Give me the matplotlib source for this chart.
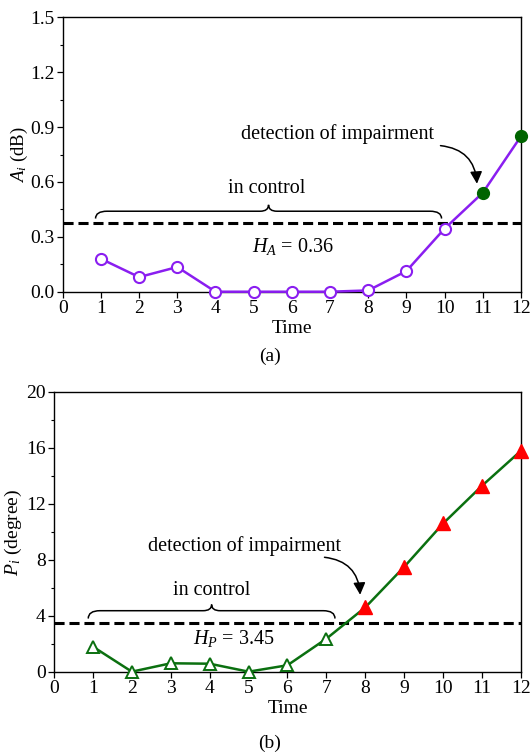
import numpy as np
import matplotlib
matplotlib.use("Agg")
from matplotlib import pyplot as plt
from matplotlib.path import Path
from matplotlib.patches import PathPatch
from matplotlib.ticker import MultipleLocator

plt.rcParams['font.family'] = ['Liberation Serif', 'DejaVu Serif']
plt.rcParams['mathtext.fontset'] = 'custom'
plt.rcParams['mathtext.rm'] = 'Liberation Serif'
plt.rcParams['mathtext.it'] = 'Liberation Serif:italic'
plt.rcParams['font.size'] = 14

# data
time = list(range(1, 13))
amp = [0.18, 0.08, 0.135, 0.0, 0.0, 0.0, 0.0, 0.007, 0.113, 0.345, 0.541, 0.85]
phase = [1.79, 0.0, 0.6, 0.57, 0.0, 0.46, 2.36, 4.6, 7.5, 10.6, 13.3, 15.8]
h_amp = 0.377        # drawn position of threshold
h_amp_label = 0.36
h_phase = 3.5
h_phase_label = 3.45
detect_amp = 11      # first out-of-control sample
detect_phase = 8

purple = '#8a1ef0'
dgreen = '#006400'
green = '#0b7010'


def brace(ax, x0, x1, yb, ym, yt, r=0.3, rt=0.22):
    xc = (x0 + x1) / 2.0
    verts = [(x0, yb), (x0, ym), (x0 + r, ym),
             (xc - rt, ym), (xc, ym), (xc, yt),
             (xc, ym), (xc + rt, ym),
             (x1 - r, ym), (x1, ym), (x1, yb)]
    codes = [Path.MOVETO, Path.CURVE3, Path.CURVE3,
             Path.LINETO, Path.CURVE3, Path.CURVE3,
             Path.CURVE3, Path.CURVE3,
             Path.LINETO, Path.CURVE3, Path.CURVE3]
    ax.add_patch(PathPatch(Path(verts, codes), fc='none', ec='black', lw=1.1))


def style(ax):
    ax.set_xlim(0, 12)
    ax.xaxis.set_major_locator(MultipleLocator(1))
    ax.tick_params(which='major', direction='out', length=4, width=0.9, labelsize=14, pad=2)
    ax.tick_params(which='minor', direction='out', length=2.5, width=0.8)
    for s in ax.spines.values():
        s.set_linewidth(1.0)
    ax.set_xlabel('Time', fontsize=14, labelpad=2)


fig = plt.figure(figsize=(5.30, 7.53), dpi=100)

# ---- (a) amplitude
ax1 = fig.add_axes([0.1183, 0.6126, 0.983 - 0.1183, 0.977 - 0.6126])
style(ax1)
ax1.set_ylim(0, 1.5)
ax1.yaxis.set_major_locator(MultipleLocator(0.3))
ax1.yaxis.set_minor_locator(MultipleLocator(0.15))
ax1.yaxis.set_major_formatter(matplotlib.ticker.FormatStrFormatter('%.1f'))
ax1.set_ylabel('$A_i$ (dB)', fontsize=13.5)
ax1.yaxis.set_label_coords(-0.072, 0.5)

ax1.axhline(h_amp, color='black', lw=2.2, dashes=(3.3, 1.6), zorder=2)
ax1.plot(time, amp, color=purple, lw=1.8, zorder=3, clip_on=False)
k = detect_amp - 1
ax1.plot(time[:k], amp[:k], ls='none', marker='o', ms=8, mfc='white', mec=purple, mew=1.5,
         zorder=4, clip_on=False)
ax1.plot(time[k:], amp[k:], ls='none', marker='o', ms=8.5, mfc=dgreen, mec=dgreen,
         zorder=4, clip_on=False)

brace(ax1, 0.86, 9.92, 0.40, 0.44, 0.475)
ax1.text(5.35, 0.565, 'in control', ha='center', va='center', fontsize=14.5)
ax1.text(6.03, 0.246, '$H_A$ = %.2f' % h_amp_label, ha='center', va='center', fontsize=14.5)
ax1.text(7.2, 0.86, 'detection of impairment', ha='center', va='center', fontsize=14.5)
ax1.annotate('', xy=(10.85, 0.575), xytext=(9.82, 0.80),
             arrowprops=dict(arrowstyle='-|>', color='black', lw=1.1,
                             mutation_scale=18, connectionstyle='arc3,rad=-0.45'))
fig.text(0.509, 1 - 356 / 753, '(a)', ha='center', va='center', fontsize=14)

# ---- (b) phase
ax2 = fig.add_axes([0.1019, 0.108, 0.983 - 0.1019, 1 - 392 / 753 - 0.108])
style(ax2)
ax2.set_ylim(0, 20)
ax2.yaxis.set_major_locator(MultipleLocator(4))
ax2.yaxis.set_minor_locator(MultipleLocator(2))
ax2.set_ylabel('$P_i$ (degree)', fontsize=14)
ax2.yaxis.set_label_coords(-0.064, 0.5)

ax2.axhline(h_phase, color='black', lw=2.2, dashes=(3.3, 1.6), zorder=2)
ax2.plot(time, phase, color=green, lw=1.8, zorder=3, clip_on=False)
k = detect_phase - 1
ax2.plot(time[:k], phase[:k], ls='none', marker='^', ms=8, mfc='white', mec=green, mew=1.4,
         zorder=4, clip_on=False)
ax2.plot(time[k:], phase[k:], ls='none', marker='^', ms=9.5, mfc='red', mec='red',
         zorder=4, clip_on=False)

brace(ax2, 0.88, 7.22, 3.8, 4.36, 4.8)
ax2.text(4.05, 5.8, 'in control', ha='center', va='center', fontsize=14.5)
ax2.text(4.61, 2.38, '$H_P$ = %.2f' % h_phase_label, ha='center', va='center', fontsize=14.5)
ax2.text(4.9, 9.0, 'detection of impairment', ha='center', va='center', fontsize=14.5)
ax2.annotate('', xy=(7.87, 5.3), xytext=(6.88, 8.2),
             arrowprops=dict(arrowstyle='-|>', color='black', lw=1.1,
                             mutation_scale=18, connectionstyle='arc3,rad=-0.45'))
fig.text(0.509, 1 - 743 / 753, '(b)', ha='center', va='center', fontsize=14)

fig.savefig('out.png', dpi=100)
